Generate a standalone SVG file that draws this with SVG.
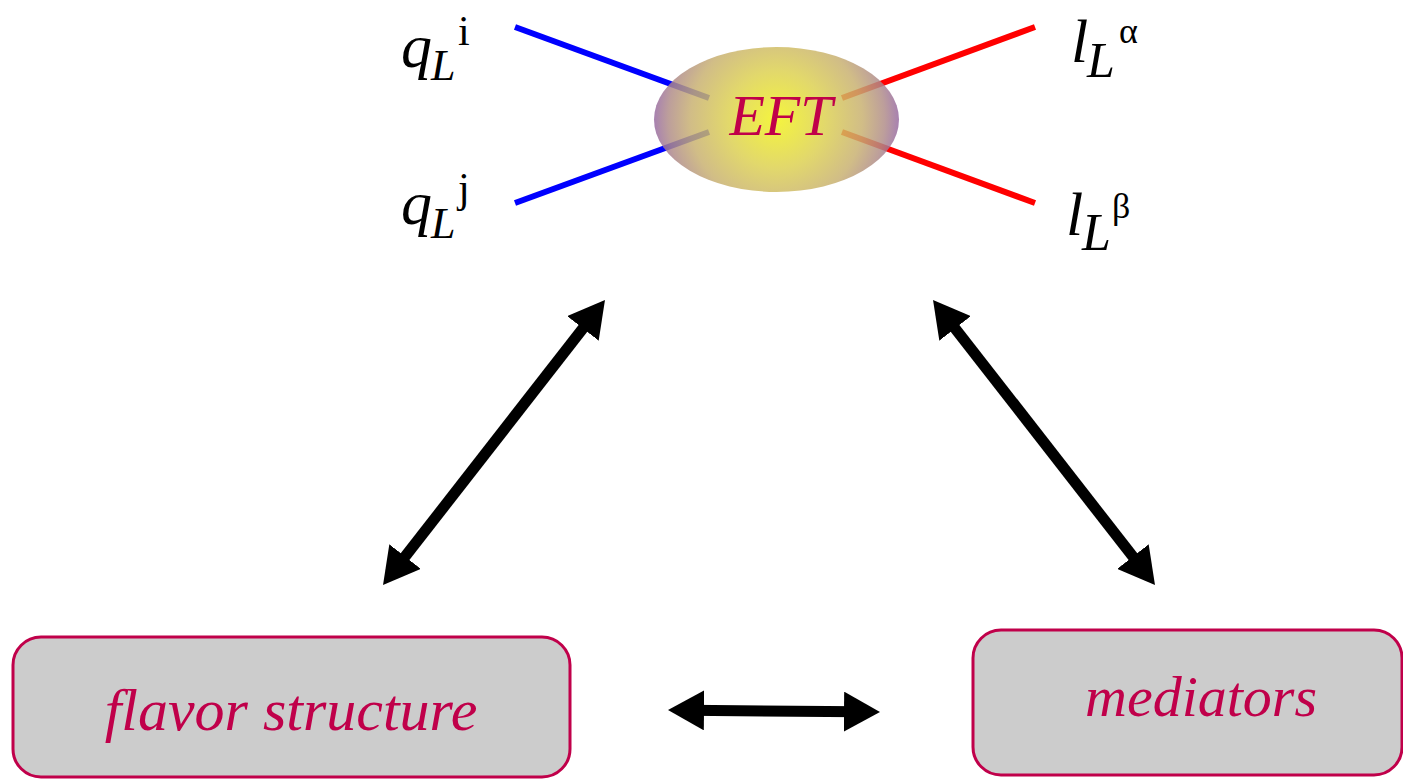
<svg xmlns="http://www.w3.org/2000/svg" width="1403" height="779" viewBox="0 0 1403 779">
<style>
.lbl{font-family:"Liberation Serif","Times New Roman",serif;fill:#000}
.it{font-style:italic}
.box{fill:#cccccc;stroke:#c0004a;stroke-width:3}
.btxt{font-family:"Liberation Serif","Times New Roman",serif;font-style:italic;fill:#c0004a;text-anchor:middle}
.arr{stroke:#000;stroke-width:11;fill:none;marker-start:url(#ah);marker-end:url(#ah)}
</style>
<defs>
<marker id="ah" markerUnits="userSpaceOnUse" markerWidth="36" markerHeight="40" viewBox="0 0 36 40" refX="16" refY="20" orient="auto-start-reverse">
<path d="M0,0 L36,20 L0,40 Z" fill="#000"/>
</marker>
<radialGradient id="eftg" gradientUnits="userSpaceOnUse" cx="776.5" cy="119.5" r="123">
<stop offset="0%" stop-color="#f2f21a"/>
<stop offset="40%" stop-color="#dcd050"/>
<stop offset="70%" stop-color="#c8b070"/>
<stop offset="88%" stop-color="#b08c88"/>
<stop offset="100%" stop-color="#9668a2"/>
</radialGradient>
</defs>
<g id="legs">
<line x1="515" y1="27" x2="709" y2="98" stroke="#0000ff" stroke-width="6"/>
<line x1="515" y1="203" x2="709" y2="132" stroke="#0000ff" stroke-width="6"/>
<line x1="1035" y1="27" x2="842" y2="98" stroke="#ff0000" stroke-width="6"/>
<line x1="1035" y1="203" x2="842" y2="132" stroke="#ff0000" stroke-width="6"/>
</g>
<g id="eft">
<ellipse cx="776.5" cy="119.5" rx="122.5" ry="72.5" fill="url(#eftg)" opacity="0.84"/>
<text x="781" y="135" class="btxt" font-size="58">EFT</text>
</g>
<g id="qLi">
<text class="lbl it" x="401" y="67" font-size="62">q</text>
<text class="lbl it" x="431" y="80" font-size="44">L</text>
<text class="lbl" x="458" y="45" font-size="42">i</text>
</g>
<g id="qLj">
<text class="lbl it" x="401" y="224" font-size="62">q</text>
<text class="lbl it" x="431" y="238" font-size="44">L</text>
<text class="lbl" x="458" y="202" font-size="42">j</text>
</g>
<g id="lLa">
<text class="lbl it" x="1071" y="62" font-size="62">l</text>
<text class="lbl it" x="1087" y="77" font-size="50">L</text>
<text class="lbl" x="1119" y="43" font-size="36">α</text>
</g>
<g id="lLb">
<text class="lbl it" x="1066" y="235" font-size="62">l</text>
<text class="lbl it" x="1082" y="250" font-size="52">L</text>
<text class="lbl" x="1112" y="218" font-size="36">β</text>
</g>
<g id="flavor">
<rect class="box" x="13" y="637" width="557" height="140" rx="28" ry="28"/>
<text class="btxt" x="291" y="730" font-size="60">flavor structure</text>
</g>
<g id="mediators">
<rect class="box" x="973" y="630" width="429" height="145" rx="28" ry="28"/>
<text class="btxt" x="1201" y="716" font-size="58">mediators</text>
</g>
<g id="connectors">
<line class="arr" x1="592.7" y1="315.8" x2="395.3" y2="569.2"/>
<line class="arr" x1="945.3" y1="315.8" x2="1142.7" y2="569.2"/>
<line class="arr" x1="688" y1="710.2" x2="860" y2="711.8"/>
</g>
</svg>
